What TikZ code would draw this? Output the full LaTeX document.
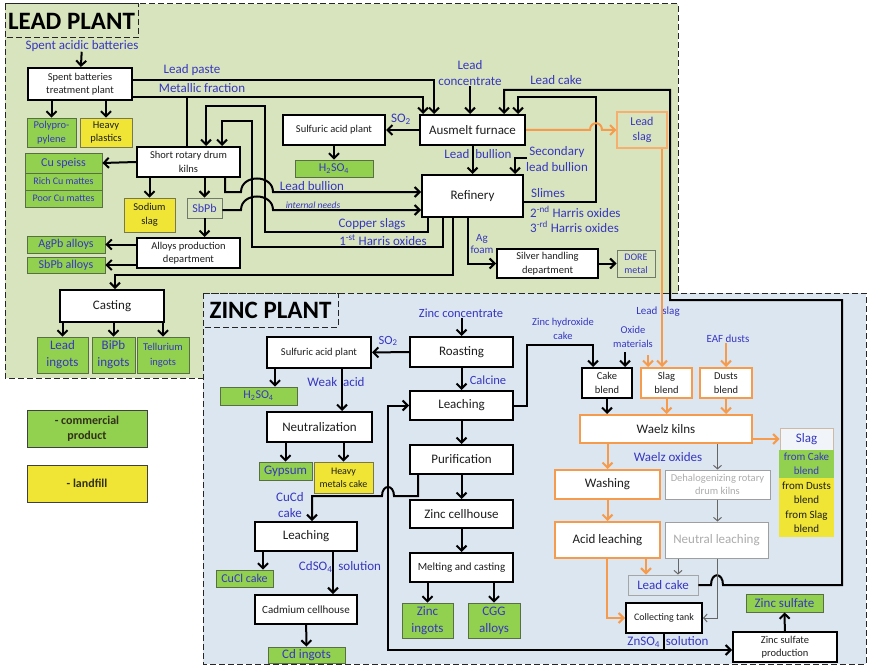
\documentclass[tikz,border=0pt]{standalone}
\usepackage{fontspec}
\setmainfont{Carlito}
\usetikzlibrary{arrows.meta}

\definecolor{leadbg}{RGB}{216,228,189}
\definecolor{zincbg}{RGB}{220,230,241}
\definecolor{flowblue}{RGB}{55,55,190}
\definecolor{prodgreen}{RGB}{146,208,80}
\definecolor{prodedge}{RGB}{90,110,70}
\definecolor{wasteyellow}{RGB}{240,229,52}
\definecolor{wasteedge}{RGB}{120,120,80}
\definecolor{flowor}{RGB}{245,155,75}
\definecolor{boxtext}{RGB}{30,30,30}

\newcommand\fsz[2]{\fontsize{#1}{#2}\selectfont}

\tikzset{
  box/.style={draw,line width=2pt,fill=white,inner sep=0pt,align=center,text=boxtext,font=\fsz{13}{15}},
  small/.style={font=\fsz{10.5}{13.5}},
  prod/.style={draw=prodedge,line width=0.8pt,fill=prodgreen,inner sep=0pt,align=center,text=flowblue,font=\fsz{12}{14}},
  waste/.style={draw=wasteedge,line width=0.8pt,fill=wasteyellow,inner sep=0pt,align=center,text=boxtext,font=\fsz{10.5}{13.5}},
  orbox/.style={box,draw=flowor},
  grbox/.style={draw=gray!75,line width=1pt,fill=white,inner sep=0pt,align=center,text=gray!65,font=\fsz{13}{15}},
  tag/.style={draw=gray!60!prodedge,line width=0.9pt,inner sep=0pt,align=center,text=flowblue,font=\fsz{12}{14}},
  lbl/.style={text=flowblue,inner sep=0pt,align=center,font=\fsz{13}{16}},
  title/.style={inner sep=0pt,font=\fsz{25}{25}\bfseries},
  plant/.style={draw=gray!30!black,dash pattern=on 6pt off 3pt,line width=1pt},
  pipe/.style={line width=2pt},
  flow/.style={pipe,-{Straight Barb[length=5pt,width=10pt]}},
  orflow/.style={flow,draw=flowor},
  grflow/.style={line width=1pt,draw=gray!80!black,-{Straight Barb[length=3.5pt,width=8pt]}},
  legend/.style={draw=gray!50!black,line width=0.8pt,inner sep=0pt,align=center,text=boxtext!80!olive,font=\fsz{12}{15}\bfseries,minimum width=120,minimum height=37},
}

\begin{document}
\begin{tikzpicture}[x=1pt,y=-1pt]
\useasboundingbox (0,0) rectangle (870,666);

% plant areas
\draw[plant,fill=leadbg] (5,4) rectangle (678,378);
\draw[plant,fill=zincbg] (203,293) rectangle (866,664);
\draw[plant] (5,4) rectangle (138,38);
\draw[plant] (203,293) rectangle (338,327);
\node[title] (leadtitle) at (71.5,21) {LEAD PLANT};
\node[title] (zinctitle) at (270.5,310) {ZINC PLANT};

% ---- lead plant ----
\node[lbl] (spent) at (82,46) {Spent acidic batteries};
\node[box,small,minimum width=104,minimum height=32] (treat) at (80,84) {Spent batteries\\treatment plant};
\node[prod,font=\fsz{10.5}{13.5},minimum width=49,minimum height=29] (polyp) at (51.5,132.5) {Polypro-\\pylene};
\node[waste,minimum width=52,minimum height=29] (heavyp) at (106,132.5) {Heavy\\plastics};
\node[prod,minimum width=77,minimum height=20] (cuspeiss) at (63.5,163) {Cu speiss};
\node[prod,font=\fsz{10}{12},minimum width=77,minimum height=17] (richcu) at (63.5,181.5) {Rich Cu mattes};
\node[prod,font=\fsz{10}{12},minimum width=77,minimum height=17] (poorcu) at (63.5,198.5) {Poor Cu mattes};
\node[box,small,minimum width=103,minimum height=30] (kilns) at (188.5,162) {Short rotary drum\\kilns};
\node[waste,minimum width=51,minimum height=34] (sodium) at (149.5,215) {Sodium\\slag};
\node[tag,minimum width=35,minimum height=20] (sbpb) at (204.5,208) {SbPb};
\node[box,small,minimum width=103,minimum height=30] (alloys) at (188.5,253) {Alloys production\\department};
\node[prod,minimum width=78,minimum height=17] (agpb) at (66,244.5) {AgPb alloys};
\node[prod,minimum width=78,minimum height=16] (sbpba) at (66,265) {SbPb alloys};
\node[box,minimum width=104,minimum height=32] (casting) at (112,306) {Casting};
\node[prod,font=\fsz{13}{17},minimum width=51,minimum height=36] (leadingot) at (62.5,355) {Lead\\ingots};
\node[prod,font=\fsz{13}{17},minimum width=43,minimum height=36] (bipb) at (113.5,355) {BiPb\\ingots};
\node[prod,font=\fsz{10.5}{15},minimum width=52,minimum height=36] (tell) at (163,355) {Tellurium\\ingots};
\node[box,font=\fsz{10.5}{13},minimum width=102,minimum height=30] (sulfL) at (334,130) {Sulfuric acid plant};
\node[prod,minimum width=78,minimum height=17] (h2so4L) at (334,168.5) {H\textsubscript{2}SO\textsubscript{4}};
\node[box,minimum width=105,minimum height=30] (ausmelt) at (472.5,130) {Ausmelt furnace};
\node[box,minimum width=101,minimum height=42] (refinery) at (472.5,196) {Refinery};
\node[tag,draw=flowor!80,line width=1.1pt,font=\fsz{12}{15},minimum width=50,minimum height=36] (leadslag) at (642,130) {Lead\\slag};
\node[box,small,minimum width=101,minimum height=29] (silver) at (547.5,263.5) {Silver handling\\department};
\node[tag,font=\fsz{10}{13},minimum width=38,minimum height=27] (dore) at (636,263.5) {DORE\\metal};

\node[lbl] (paste) at (192,70) {Lead paste};
\node[lbl] (metal) at (202,88) {Metallic fraction};
\node[lbl] (leadconc) at (470,73) {Lead\\concentrate};
\node[lbl] (cakelbl) at (556,80) {Lead cake};
\node[lbl] (so2a) at (401,119) {SO\textsubscript{2}};
\node[lbl] (bull) at (478,154) {Lead \ bullion};
\node[lbl] (second) at (557,159) {Secondary\\lead bullion};
\node[lbl] (slimes) at (548,193) {Slimes};
\node[lbl,anchor=west] (harris2) at (530,212) {2\textsuperscript{-nd} Harris oxides};
\node[lbl,anchor=west] (harris3) at (530,227) {3\textsuperscript{-rd} Harris oxides};
\node[lbl] (bull2) at (312,186) {Lead bullion};
\node[lbl,font=\fsz{9.5}{11}\itshape] (needs) at (313,205) {internal needs};
\node[lbl] (cslag) at (372,224) {Copper slags};
\node[lbl] (harris1) at (383,240) {1\textsuperscript{-st} Harris oxides};
\node[lbl,font=\fsz{11}{12}] (agfoam) at (482,244) {Ag\\foam};

% ---- zinc plant ----
\node[lbl,font=\fsz{12.5}{15}] (zincconc) at (461,313) {Zinc concentrate};
\node[box,minimum width=103,minimum height=30] (roast) at (461.5,352) {Roasting};
\node[box,font=\fsz{10.5}{13},minimum width=104,minimum height=31] (sulfZ) at (319,352.5) {Sulfuric acid plant};
\node[prod,minimum width=77,minimum height=18] (h2so4Z) at (258.5,396) {H\textsubscript{2}SO\textsubscript{4}};
\node[box,minimum width=105,minimum height=30] (neutr) at (319.5,427) {Neutralization};
\node[prod,font=\fsz{13}{15},minimum width=53,minimum height=18] (gypsum) at (285.5,471) {Gypsum};
\node[waste,font=\fsz{10}{13},minimum width=59,minimum height=31] (hmcake) at (343.5,477.5) {Heavy\\metals cake};
\node[box,minimum width=102,minimum height=29] (leachL) at (306,536.5) {Leaching};
\node[prod,minimum width=57,minimum height=17] (cucl) at (244.5,578.5) {CuCl cake};
\node[box,font=\fsz{11}{13},minimum width=102,minimum height=29] (cadm) at (306,609.5) {Cadmium cellhouse};
\node[prod,font=\fsz{13}{15},minimum width=77,minimum height=16] (cding) at (306.5,655) {Cd ingots};
\node[box,minimum width=103,minimum height=29] (leachM) at (461.5,405.5) {Leaching};
\node[box,minimum width=103,minimum height=29] (purif) at (461.5,459.5) {Purification};
\node[box,minimum width=103,minimum height=28] (cellh) at (461.5,514) {Zinc cellhouse};
\node[box,font=\fsz{11}{13},minimum width=103,minimum height=29] (melt) at (461.5,567.5) {Melting and casting};
\node[prod,font=\fsz{13}{17},minimum width=51,minimum height=35] (zincing) at (427.5,620.5) {Zinc\\ingots};
\node[prod,font=\fsz{13}{17},minimum width=52,minimum height=35] (cgg) at (494,620.5) {CGG\\alloys};

\node[box,font=\fsz{10.5}{13.5},minimum width=50,minimum height=30] (cakeb) at (607,383) {Cake\\blend};
\node[orbox,font=\fsz{10.5}{13.5},minimum width=51,minimum height=30] (slagb) at (666.5,383) {Slag\\blend};
\node[orbox,font=\fsz{10.5}{13.5},minimum width=52,minimum height=30] (dustb) at (726,383) {Dusts\\blend};
\node[orbox,minimum width=172,minimum height=28] (waelz) at (666,429) {Waelz kilns};
\node[tag,draw=flowor!40!gray!60,fill=white!60!zincbg,font=\fsz{13}{15},minimum width=53,minimum height=22] (slag) at (806.5,439) {Slag};
\node[prod,draw=none,font=\fsz{11}{14},minimum width=55,minimum height=28] (fromcake) at (806.5,464) {from Cake\\blend};
\node[waste,draw=none,font=\fsz{11}{14},minimum width=55,minimum height=29] (fromdust) at (806.5,492.5) {from Dusts\\blend};
\node[waste,draw=none,font=\fsz{11}{14},minimum width=55,minimum height=30] (fromslag) at (806.5,522) {from Slag\\blend};
\node[orbox,minimum width=105,minimum height=29] (wash) at (607.5,484.5) {Washing};
\node[grbox,font=\fsz{10.5}{13.5},minimum width=105,minimum height=29] (dehal) at (717.5,484.5) {Dehalogenizing rotary\\drum kilns};
\node[orbox,minimum width=105,minimum height=36] (acid) at (607.5,540) {Acid leaching};
\node[grbox,minimum width=103,minimum height=36] (neutral) at (716.5,540) {Neutral leaching};
\node[tag,draw=gray!70,font=\fsz{13}{15},minimum width=70,minimum height=20] (zleadcake) at (663,585) {Lead cake};
\node[box,font=\fsz{10}{12},minimum width=76,minimum height=30] (tank) at (664,618) {Collecting tank};
\node[box,small,minimum width=104,minimum height=30] (znprod) at (785,647) {Zinc sulfate\\production};
\node[prod,font=\fsz{13}{15},minimum width=77,minimum height=18] (znsulf) at (784.5,603) {Zinc sulfate};

\node[lbl,font=\fsz{12.5}{15}] (so2b) at (388,341) {SO\textsubscript{2}};
\node[lbl] (weak) at (336,382) {Weak \ acid};
\node[lbl,font=\fsz{12.5}{15}] (calcine) at (488,380) {Calcine};
\node[lbl,font=\fsz{10.5}{14}] (hydrox) at (563,329) {Zinc hydroxide\\cake};
\node[lbl,font=\fsz{10.5}{14}] (oxide) at (633,337) {Oxide\\materials};
\node[lbl,font=\fsz{11}{13}] (slaglbl) at (658,312) {Lead \ slag};
\node[lbl,font=\fsz{11}{13}] (eaf) at (728,339) {EAF dusts};
\node[lbl] (woxides) at (668,457) {Waelz oxides};
\node[lbl,font=\fsz{13}{16}] (cucd) at (290,505) {CuCd\\cake};
\node[lbl] (cdso4) at (340,567) {CdSO\textsubscript{4} \ solution};
\node[lbl] (znso4) at (668,642) {ZnSO\textsubscript{4} \ solution};

% legend
\node[legend,fill=prodgreen] (comm) at (87,428.5) {- commercial\\product};
\node[legend,fill=wasteyellow] (landf) at (87,483.5) {- landfill};

% ---- lead plant flows ----
\draw[flow] (spent) -- (treat);
\draw[flow] (treat.south -| polyp) -- (polyp.north);
\draw[flow] (treat.south -| heavyp) -- (heavyp.north);
\draw[flow] (kilns.west) -- (cuspeiss.east);
\draw[flow] (kilns.south -| sodium) -- (sodium.north);
\draw[flow] (kilns.south -| sbpb) -- (sbpb.north);
\draw[flow] (sbpb.south) -- (alloys.north -| sbpb.south);
\draw[flow] (alloys.west |- agpb) -- (agpb.east);
\draw[flow] (alloys.west |- sbpba) -- (sbpba.east);
\draw[flow] (refinery.south -| 453,0) |- (115,275) -- (casting.north -| 115,0);
\draw[flow] (casting.south -| leadingot) -- (leadingot.north);
\draw[flow] (casting.south -| bipb) -- (bipb.north);
\draw[flow] (casting.south -| tell) -- (tell.north);
\draw[flow] (treat.east |- 0,80) -| (ausmelt.north -| 434,0);
\draw[flow] (treat.east |- 0,97) -| (ausmelt.north -| 423,0);
\draw[pipe] (187,97) -- (kilns.north -| 187,0);
\draw[flow] (leadconc) -- (ausmelt.north -| leadconc);
\draw[flow] (ausmelt.west) -- (sulfL.east);
\draw[flow] (sulfL) -- (h2so4L);
\draw[flow] (ausmelt) -- (refinery);
\draw[flow] (527,158) -| (refinery.north -| 515,0);
\draw[flow] (refinery.east |- 0,202) -| (596,97) -| (ausmelt.north -| 518,0);
\draw[flow] (zleadcake.east) -- (711,585) .. controls (711,572) and (723,572) .. (723,585)
  -- (842,585) |- (670,300) |- (504,90) -- (ausmelt.north -| 504,0);
\draw[orflow] (ausmelt.east) -- (590,130) .. controls (590,121) and (602,121) .. (602,130) -- (leadslag.west);
\draw[orflow] (leadslag.south -| 662,0) -- (slagb.north -| 662,0);
\draw[flow] (kilns.south -| 225,0) |- (241,192) .. controls (241,174) and (273,174) .. (273,192)
  -- (refinery.west |- 0,192);
\draw[flow] (sbpb.east |- 0,210) -- (241,210) .. controls (241,192) and (273,192) .. (273,210)
  -- (refinery.west |- 0,210);
\draw[flow] (refinery.south -| 428,0) |- (265,232) -- (265,106) -| (kilns.north -| 206,0);
\draw[flow] (refinery.south -| 443,0) |- (252,247) -- (252,121) -| (kilns.north -| 222,0);
\draw[flow] (refinery.south -| 468,0) |- (silver.west);
\draw[flow] (silver.east) -- (dore.west);

% ---- zinc plant flows ----
\draw[flow] (zincconc.south -| roast) -- (roast.north);
\draw[flow] (roast.west) -- (sulfZ.east);
\draw[flow] (sulfZ.south -| 275,0) -- (h2so4Z.north -| 275,0);
\draw[flow] (sulfZ.south -| 342,0) -- (neutr.north -| 342,0);
\draw[flow] (neutr.south -| gypsum) -- (gypsum.north);
\draw[flow] (neutr.south -| hmcake) -- (hmcake.north);
\draw[flow] (roast) -- (leachM);
\draw[flow] (leachM) -- (purif);
\draw[flow] (purif) -- (cellh);
\draw[flow] (cellh) -- (melt);
\draw[flow] (melt.south -| zincing) -- (zincing.north);
\draw[flow] (melt.south -| cgg) -- (cgg.north);
\draw[flow] (leachM.east) -| (527,345) -| (cakeb.north -| 593,0);
\draw[flow] (625,352) -- (cakeb.north -| 625,0);
\draw[flow] (purif.south -| 418,0) |- (394,496) .. controls (394,484) and (382,484) .. (382,496)
  -| (leachL.north -| 312,0);
\draw[flow] (leachL.south -| 263,0) -- (cucl.north -| 263,0);
\draw[flow] (leachL.south -| 333,0) -- (cadm.north -| 333,0);
\draw[flow] (cadm) -- (cding);
\draw[flow] (tank.south -| 664,0) |- (znprod.west |- 0,650);
\draw[flow] (664,650) -- (388,650) |- (leachM.west);
\draw[flow] (znprod) -- (znsulf);
\draw[orflow] (648,355) -- (slagb.north -| 648,0);
\draw[orflow] (eaf.south -| dustb) -- (dustb.north);
\draw[flow] (cakeb) -- (waelz.north -| cakeb);
\draw[orflow] (slagb) -- (waelz.north -| slagb);
\draw[orflow] (dustb) -- (waelz.north -| dustb);
\draw[orflow] (waelz.east |- slag) -- (slag.west);
\draw[orflow] (waelz.south -| wash) -- (wash.north);
\draw[grflow] (waelz.south -| dehal) -- (dehal.north);
\draw[orflow] (wash) -- (acid);
\draw[grflow] (dehal.south) -- (neutral.north -| dehal.south);
\draw[orflow] (acid.south -| 646,0) -- (zleadcake.north -| 646,0);
\draw[orflow] (acid.south -| 607,0) |- (tank.west);
\draw[grflow] (neutral.south -| 678,0) -- (zleadcake.north -| 678,0);
\draw[grflow] (neutral.south -| 717,0) |- (tank.east);
\end{tikzpicture}
\end{document}
